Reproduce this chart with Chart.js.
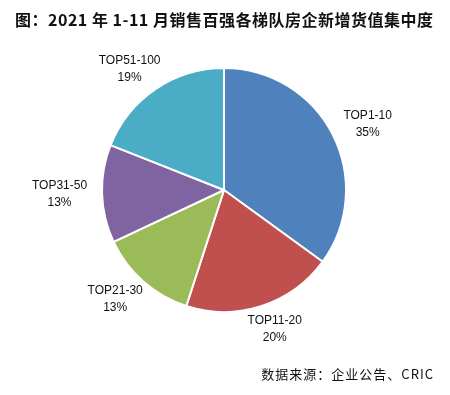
<!DOCTYPE html>
<html lang="zh">
<head>
    <meta charset="UTF-8">
    <title>百强房企新增货值集中度</title>
    <script src="https://cdn.jsdelivr.net/npm/chart.js@4.4.0/dist/chart.umd.min.js"></script>
    <style>
        body{
            margin: 0;
            background: #ffffff;
        }
        .wrap{
            position: relative;
            width: 450px;
            height: 395px;
        }
        .titulo{
            position: absolute;
            left: 15px;
            top: 9px;
            font-family: "Noto Sans CJK SC", sans-serif;
            font-weight: bold;
            font-size: 16px;
            line-height: 20px;
            letter-spacing: 0.5px;
            color: #111;
            white-space: nowrap;
        }
        .fuente{
            position: absolute;
            right: 16px;
            top: 366px;
            font-family: "Noto Sans CJK SC", sans-serif;
            font-size: 13px;
            line-height: 16px;
            letter-spacing: 1px;
            color: #111;
            white-space: nowrap;
        }
        canvas{
            position: absolute;
            left: 0;
            top: 0;
        }
    </style>
</head>
<body>
    <div class="wrap">
        <canvas id="miCanvas" width="450" height="395"></canvas>
        <div class="titulo">图：2021 年 1-11 月销售百强各梯队房企新增货值集中度</div>
        <div class="fuente">数据来源：企业公告、CRIC</div>
    </div>
    <script>
        // datos
        const categorias = ["TOP1-10", "TOP11-20", "TOP21-30", "TOP31-50", "TOP51-100"];
        const valores = [35, 20, 13, 13, 19];
        const colores = ["#4F81BD", "#C0504D", "#9BBB59", "#8064A2", "#4BACC6"];

        // etiquetas fuera de cada sector, nombre + porcentaje
        const etiquetas = {
            id: "etiquetas",
            afterDatasetsDraw(chart){
                const ctx = chart.ctx;
                const meta = chart.getDatasetMeta(0);
                ctx.save();
                ctx.font = "12px 'Liberation Sans', Arial, sans-serif";
                ctx.fillStyle = "#111";
                ctx.textAlign = "center";
                ctx.textBaseline = "middle";
                meta.data.forEach((arc, i) => {
                    const p = arc.getProps(["x", "y", "startAngle", "endAngle", "outerRadius"], true);
                    const mid = (p.startAngle + p.endAngle) / 2;
                    const halfW = ctx.measureText(categorias[i]).width / 2;
                    const halfH = 17;
                    const cx = p.x + Math.cos(mid) * (p.outerRadius + 15 + halfW);
                    const cy = p.y + Math.sin(mid) * (p.outerRadius + 7 + halfH);
                    ctx.fillText(categorias[i], cx, cy - 8.5);
                    ctx.fillText(valores[i] + "%", cx, cy + 8.5);
                });
                ctx.restore();
            }
        };

        new Chart(document.getElementById("miCanvas").getContext("2d"), {
            type: "pie",
            data: {
                labels: categorias,
                datasets: [{
                    data: valores,
                    backgroundColor: colores,
                    borderColor: "#ffffff",
                    borderWidth: 2
                }]
            },
            options: {
                responsive: false,
                animation: false,
                layout: {
                    padding: {left: 101, right: 103, top: 67, bottom: 82}
                },
                plugins: {
                    legend: {display: false},
                    tooltip: {enabled: false}
                }
            },
            plugins: [etiquetas]
        });
    </script>
</body>
</html>
